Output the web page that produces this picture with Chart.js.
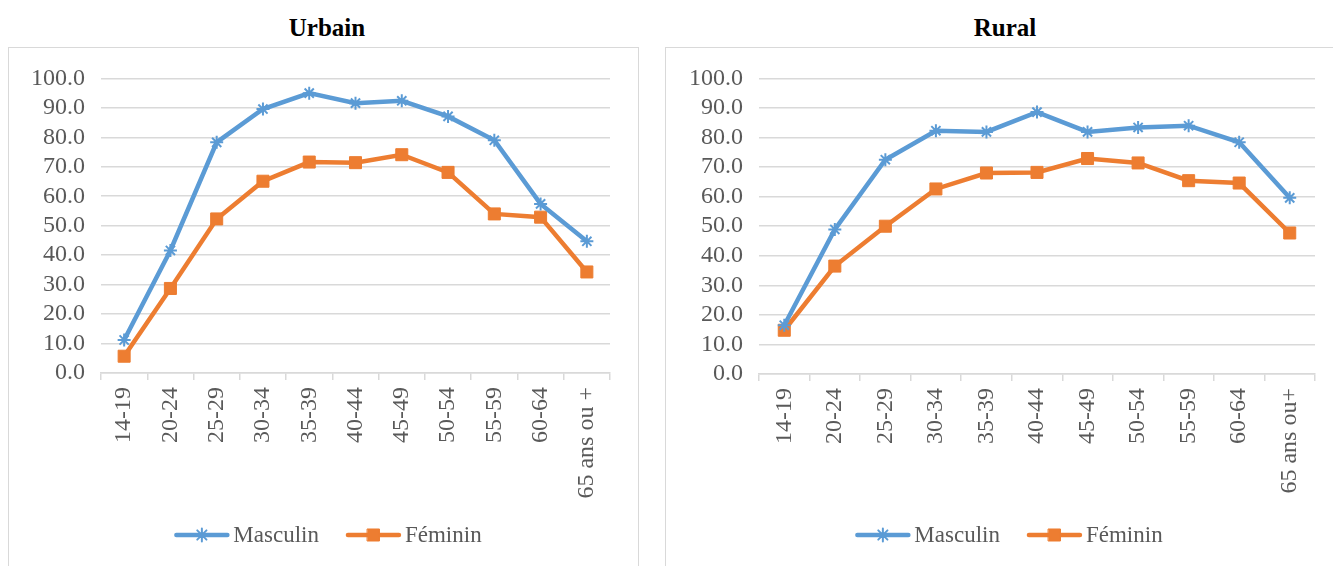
<!DOCTYPE html>
<html>
<head>
<meta charset="utf-8">
<script src="https://cdn.jsdelivr.net/npm/chart.js@4/dist/chart.umd.min.js"></script>
<style>
  html, body { margin: 0; padding: 0; background: #fff; overflow: hidden; width: 1333px; height: 566px; }
  .title { position: absolute; top: 14px; font: bold 25px "Liberation Serif", "Times New Roman", serif; color: #000; text-align: center; }
  .box { position: absolute; top: 47px; height: 560px; border: 1.5px solid #d9d9d9; box-sizing: border-box; }
  .box canvas { position: absolute; left: 0; top: 0; }
</style>
</head>
<body>
<div class="title" style="left:227px;width:200px;">Urbain</div>
<div class="title" style="left:905px;width:200px;">Rural</div>
<div class="box" style="left:8px;width:631px;"><canvas id="urbain" width="630" height="519"></canvas></div>
<div class="box" style="left:665px;width:700px;"><canvas id="rural" width="686" height="519"></canvas></div>
<script>
// categories
var categoriesUrbain = ['14-19', '20-24', '25-29', '30-34', '35-39', '40-44', '45-49', '50-54', '55-59', '60-64', '65 ans ou +'];
var categoriesRural = ['14-19', '20-24', '25-29', '30-34', '35-39', '40-44', '45-49', '50-54', '55-59', '60-64', '65 ans ou+'];

// series values (%)
var urbainMasculin = [11.2, 41.6, 78.3, 89.6, 95.0, 91.6, 92.4, 87.1, 79.0, 57.4, 44.7];
var urbainFeminin = [5.7, 28.7, 52.3, 65.1, 71.6, 71.4, 74.1, 68.1, 54.0, 52.9, 34.3];
var ruralMasculin = [16.5, 48.9, 72.5, 82.3, 81.9, 88.6, 81.9, 83.4, 84.0, 78.4, 59.6];
var ruralFeminin = [14.8, 36.5, 50.0, 62.6, 68.0, 68.2, 72.9, 71.4, 65.4, 64.6, 47.7];

var seriesNames = ['Masculin', 'Féminin'];
var yTicks = [0, 10, 20, 30, 40, 50, 60, 70, 80, 90, 100];

var BLUE = '#5B9BD5';
var ORANGE = '#ED7D31';
var TEXT = '#595959';
var GRID = '#d9d9d9';
var FONT = '"Liberation Serif", "Times New Roman", serif';

// legend drawn as line + marker, like the office chart legend
var lineLegend = {
    id: 'lineLegend',
    afterDraw: function (chart, args, opts) {
        var ctx = chart.ctx;
        ctx.save();
        ctx.font = '23px ' + FONT;
        var lineW = 55, gapText = 4, gapItem = 27;
        var items = chart.data.datasets.map(function (ds) {
            return { ds: ds, w: lineW + gapText + ctx.measureText(ds.label).width };
        });
        var total = items.reduce(function (s, it) { return s + it.w; }, 0) + gapItem * (items.length - 1);
        var x = opts.centerX - total / 2;
        var y = opts.y;
        items.forEach(function (it) {
            var ds = it.ds;
            ctx.strokeStyle = ds.borderColor;
            ctx.lineWidth = ds.borderWidth;
            ctx.lineCap = 'round';
            ctx.beginPath();
            ctx.moveTo(x + 2, y);
            ctx.lineTo(x + lineW - 2, y);
            ctx.stroke();
            ctx.fillStyle = ds.pointBackgroundColor;
            ctx.strokeStyle = ds.pointBorderColor;
            ctx.lineWidth = ds.pointBorderWidth;
            Chart.helpers.drawPoint(ctx, { pointStyle: ds.pointStyle, radius: ds.pointRadius, borderWidth: ds.pointBorderWidth, rotation: 0 }, x + lineW / 2, y);
            ctx.fillStyle = TEXT;
            ctx.textBaseline = 'middle';
            ctx.textAlign = 'left';
            ctx.fillText(ds.label, x + lineW + gapText, y + 1);
            x += it.w + gapItem;
        });
        ctx.restore();
    }
};

function makeChart(id, labels, masc, fem, yAxisWidth, padRight, xAxisHeight, legendCenter) {
    var ctx = document.getElementById(id).getContext('2d');
    return new Chart(ctx, {
        type: 'line',
        data: {
            labels: labels,
            datasets: [{
                label: seriesNames[0],
                data: masc,
                borderColor: BLUE,
                borderWidth: 4.5,
                pointStyle: 'star',
                pointRadius: 6.5,
                pointBorderWidth: 2,
                pointBackgroundColor: BLUE,
                pointBorderColor: BLUE,
                tension: 0
            }, {
                label: seriesNames[1],
                data: fem,
                borderColor: ORANGE,
                borderWidth: 4.5,
                pointStyle: 'rect',
                pointRadius: 8.5,
                pointBorderWidth: 1,
                pointBackgroundColor: ORANGE,
                pointBorderColor: ORANGE,
                tension: 0
            }]
        },
        options: {
            responsive: false,
            animation: false,
            layout: { padding: { top: 30, right: padRight, bottom: 0, left: 0 } },
            plugins: {
                legend: { display: false },
                tooltip: { enabled: false },
                lineLegend: { centerX: legendCenter, y: 487 }
            },
            scales: {
                x: {
                    offset: true,
                    grid: { offset: true, drawOnChartArea: false, drawTicks: true, tickLength: 7, color: GRID, lineWidth: 1.5 },
                    border: { display: true, color: GRID, width: 1.5 },
                    ticks: {
                        color: TEXT,
                        font: { family: FONT, size: 24 },
                        minRotation: 90,
                        maxRotation: 90,
                        autoSkip: false,
                        padding: 7
                    },
                    afterFit: function (scale) { scale.height = xAxisHeight; }
                },
                y: {
                    min: 0,
                    max: 100,
                    afterBuildTicks: function (scale) {
                        scale.ticks = yTicks.map(function (v) { return { value: v }; });
                    },
                    grid: { color: GRID, lineWidth: 1.5, drawTicks: false },
                    border: { display: false },
                    ticks: {
                        color: TEXT,
                        font: { family: FONT, size: 24 },
                        autoSkip: false,
                        padding: 16,
                        callback: function (v) { return Number(v).toFixed(1); }
                    },
                    afterFit: function (scale) { scale.width = yAxisWidth; }
                }
            }
        },
        plugins: [lineLegend]
    });
}

makeChart('urbain', categoriesUrbain, urbainMasculin, urbainFeminin, 92, 29, 194, 319);
makeChart('rural', categoriesRural, ruralMasculin, ruralFeminin, 93, 37, 193, 343);
</script>
</body>
</html>
